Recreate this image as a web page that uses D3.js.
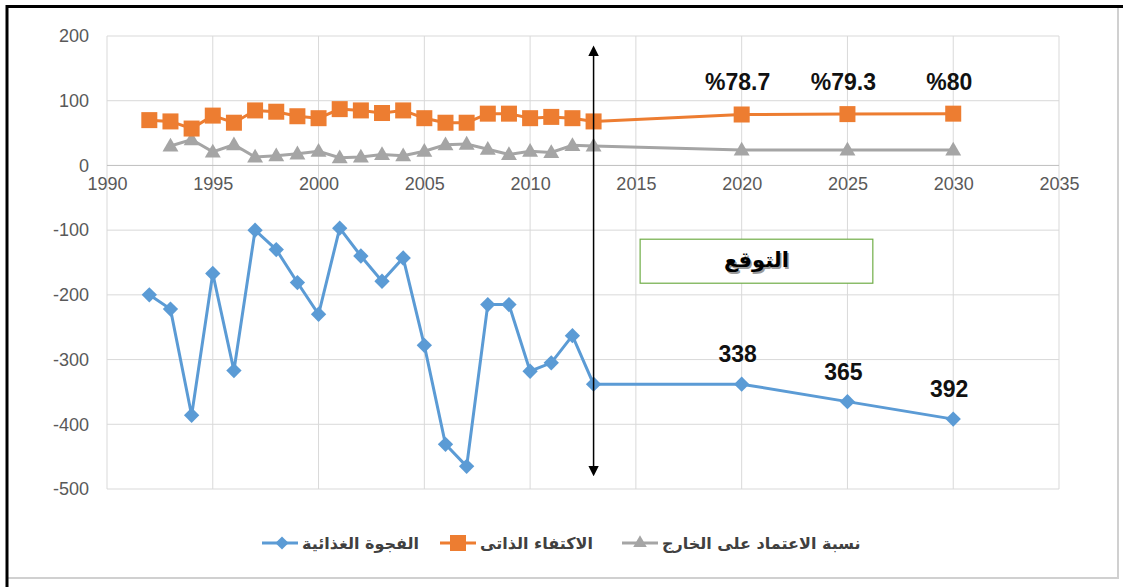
<!DOCTYPE html>
<html>
<head>
<meta charset="utf-8">
<script src="https://cdn.jsdelivr.net/npm/d3@7"></script>
<style>
  body { margin: 0; background: #fff; }
  svg { display: block; }
</style>
</head>
<body>
<svg id="chart"></svg>
<script>
const width = 1123;
const height = 587;

// data
const years = [1992, 1993, 1994, 1995, 1996, 1997, 1998, 1999, 2000, 2001, 2002,
  2003, 2004, 2005, 2006, 2007, 2008, 2009, 2010, 2011, 2012, 2013, 2020, 2025, 2030];
const foodGap = [-200, -222, -386, -167, -317, -100, -130, -181, -230, -97, -140,
  -179, -143, -278, -431, -465, -215, -215, -318, -305, -263, -338, -338, -365, -392];
const selfSufficiency = [70, 68, 57, 77, 66, 85, 83, 76, 73, 87, 85,
  81, 85, 73, 66, 66, 80, 80, 73, 75, 73, 68, 78.7, 79.3, 80];
const dependence = [null, 30, 40, 21, 32, 13, 15, 18, 22, 12, 13,
  17, 15, 22, 32, 33, 25, 17, 22, 20, 31, 30, 24, 24, 24];

const xTicks = [1990, 1995, 2000, 2005, 2010, 2015, 2020, 2025, 2030, 2035];
const yTicks = [200, 100, 0, -100, -200, -300, -400, -500];

const forecastYears = [2020, 2025, 2030];
const gapLabels = ["338", "365", "392"];
const pctLabels = ["%78.7", "%79.3", "%80"];

const seriesNames = ["الفجوة الغذائية", "الاكتفاء الذاتى", "نسبة الاعتماد على الخارج"];
const forecastText = "التوقع";
const arrowYear = 2013;
const arrowRange = [185, -480];
const boxX = [2015.2, 2026.2];
const boxY = [-114, -182];

const colors = { gap: "#5b9bd5", self: "#ed7d31", dep: "#a5a5a5" };

const svg = d3.select("#chart").attr("width", width).attr("height", height);

// frame
svg.append("rect").attr("x", 0).attr("y", 0).attr("width", width).attr("height", height).attr("fill", "#fff");
svg.append("line").attr("x1", 1118).attr("x2", 1118).attr("y1", 8).attr("y2", 578)
  .attr("stroke", "#d0d0d0").attr("stroke-width", 2);
svg.append("line").attr("x1", 8).attr("x2", 1119).attr("y1", 578).attr("y2", 578)
  .attr("stroke", "#d0d0d0").attr("stroke-width", 2);
svg.append("line").attr("x1", 6).attr("x2", width).attr("y1", 6.5).attr("y2", 6.5)
  .attr("stroke", "#000").attr("stroke-width", 3);
svg.append("line").attr("x1", 7).attr("x2", 7).attr("y1", 5).attr("y2", height)
  .attr("stroke", "#000").attr("stroke-width", 3);

const xScale = d3.scaleLinear().domain([1990, 2035]).range([107, 1059]);
const yScale = d3.scaleLinear().domain([-500, 200]).range([489, 36]);

// grid
const grid = svg.append("g");
grid.selectAll(".vg").data(xTicks).enter().append("line")
  .attr("x1", d => xScale(d)).attr("x2", d => xScale(d))
  .attr("y1", yScale(200)).attr("y2", yScale(-500))
  .attr("stroke", "#d9d9d9").attr("stroke-width", 1);
grid.selectAll(".hg").data(yTicks).enter().append("line")
  .attr("x1", xScale(1990)).attr("x2", xScale(2035))
  .attr("y1", d => yScale(d)).attr("y2", d => yScale(d))
  .attr("stroke", d => d === 0 ? "#bfbfbf" : "#d9d9d9").attr("stroke-width", 1);

// axes
const yAxisG = svg.append("g")
  .attr("transform", `translate(${xScale(1990) - 18}, 0)`)
  .call(d3.axisLeft(yScale).tickValues(yTicks).tickFormat(d => String(d)).tickSize(0).tickPadding(0));
yAxisG.select(".domain").remove();
yAxisG.selectAll("text")
  .style("font-family", "Liberation Sans, Arial, sans-serif")
  .style("font-size", "18px")
  .attr("fill", "#595959");

const xAxisG = svg.append("g")
  .attr("transform", `translate(0, ${yScale(0)})`)
  .call(d3.axisBottom(xScale).tickValues(xTicks).tickFormat(d => String(d)).tickSize(0).tickPadding(12));
xAxisG.select(".domain").remove();
xAxisG.selectAll("text")
  .style("font-family", "Liberation Sans, Arial, sans-serif")
  .style("font-size", "18px")
  .attr("fill", "#595959");

// series
const rows = years.map((yr, i) => ({ yr, gap: foodGap[i], self: selfSufficiency[i], dep: dependence[i] }));

const lineOf = key => d3.line()
  .defined(d => d[key] !== null)
  .x(d => xScale(d.yr))
  .y(d => yScale(d[key]));

svg.append("path").datum(rows.filter(d => d.dep !== null))
  .attr("d", lineOf("dep")).attr("fill", "none")
  .attr("stroke", colors.dep).attr("stroke-width", 3);
svg.selectAll(".tri").data(rows.filter(d => d.dep !== null)).enter().append("path")
  .attr("d", d3.symbol().type(d3.symbolTriangle).size(110))
  .attr("transform", d => `translate(${xScale(d.yr)}, ${yScale(d.dep) + 1})`)
  .attr("fill", colors.dep);

svg.append("path").datum(rows)
  .attr("d", lineOf("self")).attr("fill", "none")
  .attr("stroke", colors.self).attr("stroke-width", 3);
svg.selectAll(".sq").data(rows).enter().append("rect")
  .attr("x", d => xScale(d.yr) - 8).attr("y", d => yScale(d.self) - 8)
  .attr("width", 16).attr("height", 16)
  .attr("fill", colors.self);

svg.append("path").datum(rows)
  .attr("d", lineOf("gap")).attr("fill", "none")
  .attr("stroke", colors.gap).attr("stroke-width", 3);
svg.selectAll(".dia").data(rows).enter().append("path")
  .attr("d", d3.symbol().type(d3.symbolDiamond2).size(150))
  .attr("transform", d => `translate(${xScale(d.yr)}, ${yScale(d.gap)})`)
  .attr("fill", colors.gap);

// forecast arrow
const defs = svg.append("defs");
defs.append("marker").attr("id", "ah").attr("viewBox", "0 0 10 10")
  .attr("refX", 5).attr("refY", 5).attr("markerWidth", 7).attr("markerHeight", 9)
  .attr("orient", "auto-start-reverse")
  .append("path").attr("d", "M0,0 L10,5 L0,10 Z").attr("fill", "#000");
svg.append("line")
  .attr("x1", xScale(arrowYear)).attr("x2", xScale(arrowYear))
  .attr("y1", yScale(arrowRange[0]) + 5).attr("y2", yScale(arrowRange[1]) - 5)
  .attr("stroke", "#000").attr("stroke-width", 1.5)
  .attr("marker-start", "url(#ah)").attr("marker-end", "url(#ah)");

// forecast box
svg.append("rect")
  .attr("x", xScale(boxX[0])).attr("y", yScale(boxY[0]))
  .attr("width", xScale(boxX[1]) - xScale(boxX[0]))
  .attr("height", yScale(boxY[1]) - yScale(boxY[0]))
  .attr("fill", "#fff").attr("stroke", "#70ad47").attr("stroke-width", 1.2);
const bx = (xScale(boxX[0]) + xScale(boxX[1])) / 2;
const by = (yScale(boxY[0]) + yScale(boxY[1])) / 2;
[["#9a9a9a", 1.5], ["#000", 0]].forEach(([c, o]) => {
  svg.append("text").text(forecastText)
    .attr("x", bx + o).attr("y", by + 6 + o)
    .attr("text-anchor", "middle").attr("direction", "rtl")
    .style("font-family", "DejaVu Sans, sans-serif").style("font-weight", "bold")
    .style("font-size", "21px").attr("fill", c);
});

// value labels
const labelFont = "Liberation Sans, Arial, sans-serif";
svg.selectAll(".gl").data(forecastYears).enter().append("text")
  .attr("x", d => xScale(d) - 4)
  .attr("y", d => yScale(foodGap[years.indexOf(d)]) - 22)
  .attr("text-anchor", "middle")
  .style("font-family", labelFont).style("font-weight", "bold").style("font-size", "23px")
  .attr("fill", "#111")
  .text((d, i) => gapLabels[i]);
svg.selectAll(".pl").data(forecastYears).enter().append("text")
  .attr("x", d => xScale(d) - 4)
  .attr("y", d => yScale(selfSufficiency[years.indexOf(d)]) - 24)
  .attr("text-anchor", "middle")
  .style("font-family", labelFont).style("font-weight", "bold").style("font-size", "23px")
  .attr("fill", "#111")
  .text((d, i) => pctLabels[i]);

// legend
const legend = svg.append("g").attr("transform", "translate(0, 543)");
const legendItems = [
  { x: 262, name: seriesNames[0], color: colors.gap, type: "dia" },
  { x: 440, name: seriesNames[1], color: colors.self, type: "sq" },
  { x: 622, name: seriesNames[2], color: colors.dep, type: "tri" }
];
legendItems.forEach(it => {
  const g = legend.append("g").attr("transform", `translate(${it.x}, 0)`);
  g.append("line").attr("x1", 0).attr("x2", 36).attr("stroke", it.color).attr("stroke-width", 3);
  if (it.type === "sq") {
    g.append("rect").attr("x", 10).attr("y", -8).attr("width", 16).attr("height", 16).attr("fill", it.color);
  } else if (it.type === "dia") {
    g.append("path").attr("d", d3.symbol().type(d3.symbolDiamond2).size(110)).attr("transform", "translate(20,0)").attr("fill", it.color);
  } else {
    g.append("path").attr("d", d3.symbol().type(d3.symbolTriangle).size(80)).attr("transform", "translate(18,0)").attr("fill", it.color);
  }
  g.append("text").text(it.name)
    .attr("x", 40).attr("y", 6)
    .style("font-family", "DejaVu Sans, sans-serif").style("font-weight", "bold")
    .style("font-size", "16px").attr("fill", "#404040");
});
</script>
</body>
</html>
